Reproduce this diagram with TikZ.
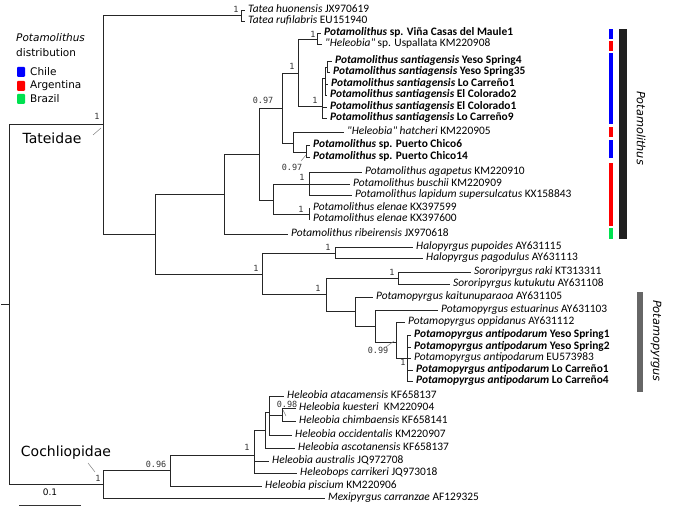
\documentclass[tikz,border=0pt]{standalone}
\usepackage{fontspec}
\setmainfont{Carlito}[Ligatures=TeXOff]
\newfontfamily\dejavu{DejaVu Sans}
\newfontfamily\dmono{DejaVu Sans Mono}
\definecolor{cblue}{RGB}{0,0,255}
\definecolor{cred}{RGB}{255,0,0}
\definecolor{cgreen}{RGB}{0,225,80}
\tikzset{
  br/.style={draw=black!85, line width=0.8pt},
  lab/.style={anchor=west, inner xsep=3pt, inner ysep=0pt, text height=7.5pt, text depth=2.2pt, font=\fontsize{11.4}{13}\selectfont},
  supv/.style={inner sep=0pt, font=\dmono\fontsize{8.5}{10}\selectfont, text=black!80},
  fam/.style={inner sep=0pt, font=\dejavu\fontsize{14}{16}\selectfont},
  leg/.style={inner sep=0pt, anchor=west, font=\dejavu\fontsize{10.5}{12}\selectfont},
  ptr/.style={draw=black!50, line width=0.5pt},
  sw/.style={rounded corners=1pt, draw=none}
}
\begin{document}
\begin{tikzpicture}[x=1pt,y=-1pt]
\useasboundingbox (0,0) rectangle (691,513);
% internal nodes
\coordinate (stem) at (1,304);
\coordinate (R) at (9,304);
\coordinate (T) at (103,124);
\coordinate (C) at (103,484);
\coordinate (TA) at (241,15);
\coordinate (P155) at (155,234);
\coordinate (P224) at (224,194);
\coordinate (P259) at (259,154);
\coordinate (P282) at (282,108);
\coordinate (P298) at (298,73);
\coordinate (V317) at (317,39);
\coordinate (S322) at (322,106);
\coordinate (S325) at (325,78);
\coordinate (S327) at (327,67);
\coordinate (P293) at (293,143);
\coordinate (PC) at (306,152);
\coordinate (P273) at (273,200);
\coordinate (A309) at (309,184);
\coordinate (E309) at (309,214);
\coordinate (H262) at (262,274);
\coordinate (HP335) at (335,253);
\coordinate (N326) at (326,294);
\coordinate (SO398) at (398,278);
\coordinate (N355) at (355,311);
\coordinate (N375) at (375,326);
\coordinate (N396) at (396,342);
\coordinate (A407) at (407,358);
\coordinate (C170) at (170,470);
\coordinate (C254) at (254,455);
\coordinate (C265) at (265,430);
\coordinate (C269) at (269,412);
\coordinate (K282) at (282,415);
% leaves
\node[lab] (L1) at (245,10) {\textit{Tatea huonensis} JX970619};
\node[lab] (L2) at (245,21) {\textit{Tatea rufilabris} EU151940};
\node[lab] (L3) at (321,33) {\textbf{\textit{Potamolithus} sp. Viña Casas del Maule1}};
\node[lab] (L4) at (322,44) {\textit{"Heleobia"} sp. Uspallata KM220908};
\node[lab] (L5) at (332,61) {\textbf{\textit{Potamolithus santiagensis} Yeso Spring4}};
\node[lab] (L6) at (330,72) {\textbf{\textit{Potamolithus santiagensis} Yeso Spring35}};
\node[lab] (L7) at (328,84) {\textbf{\textit{Potamolithus santiagensis} Lo Carreño1}};
\node[lab] (L8) at (327,95) {\textbf{\textit{Potamolithus santiagensis} El Colorado2}};
\node[lab] (L9) at (327,107) {\textbf{\textit{Potamolithus santiagensis} El Colorado1}};
\node[lab] (L10) at (327,118) {\textbf{\textit{Potamolithus santiagensis} Lo Carreño9}};
\node[lab] (L11) at (344,132) {\textit{"Heleobia" hatcheri} KM220905};
\node[lab] (L12) at (310,145) {\textbf{\textit{Potamolithus} sp. Puerto Chico6}};
\node[lab] (L13) at (310,157) {\textbf{\textit{Potamolithus} sp. Puerto Chico14}};
\node[lab] (L14) at (362,172) {\textit{Potamolithus agapetus} KM220910};
\node[lab] (L15) at (350,184) {\textit{Potamolithus buschii} KM220909};
\node[lab] (L16) at (352,195) {\textit{Potamolithus lapidum supersulcatus} KX158843};
\node[lab] (L17) at (310,208) {\textit{Potamolithus elenae} KX397599};
\node[lab] (L18) at (310,219) {\textit{Potamolithus elenae} KX397600};
\node[lab] (L19) at (288,234) {\textit{Potamolithus ribeirensis} JX970618};
\node[lab] (L20) at (413,247) {\textit{Halopyrgus pupoides} AY631115};
\node[lab] (L21) at (423,258) {\textit{Halopyrgus pagodulus} AY631113};
\node[lab] (L22) at (471,272) {\textit{Sororipyrgus raki} KT313311};
\node[lab] (L23) at (450,284) {\textit{Sororipyrgus kutukutu} AY631108};
\node[lab] (L24) at (373,297) {\textit{Potamopyrgus kaitunuparaoa} AY631105};
\node[lab] (L25) at (438,310) {\textit{Potamopyrgus estuarinus} AY631103};
\node[lab] (L26) at (405,322) {\textit{Potamopyrgus oppidanus} AY631112};
\node[lab] (L27) at (411,335) {\textbf{\textit{Potamopyrgus antipodarum} Yeso Spring1}};
\node[lab] (L28) at (411,347) {\textbf{\textit{Potamopyrgus antipodarum} Yeso Spring2}};
\node[lab] (L29) at (411,358) {\textit{Potamopyrgus antipodarum} EU573983};
\node[lab] (L30) at (413,370) {\textbf{\textit{Potamopyrgus antipodarum} Lo Carreño1}};
\node[lab] (L31) at (413,381) {\textbf{\textit{Potamopyrgus antipodarum} Lo Carreño4}};
\node[lab] (L32) at (284,396) {\textit{Heleobia atacamensis} KF658137};
\node[lab] (L33) at (296,408) {\textit{Heleobia kuesteri}\ \ KM220904};
\node[lab] (L34) at (296,421) {\textit{Heleobia chimbaensis} KF658141};
\node[lab] (L35) at (292,435) {\textit{Heleobia occidentalis} KM220907};
\node[lab] (L36) at (295,448) {\textit{Heleobia ascotanensis} KF658137};
\node[lab] (L37) at (269,461) {\textit{Heleobia australis} JQ972708};
\node[lab] (L38) at (297,473) {\textit{Heleobops carrikeri} JQ973018};
\node[lab] (L39) at (262,486) {\textit{Heleobia piscium} KM220906};
\node[lab] (L40) at (325,498) {\textit{Mexipyrgus carranzae} AF129325};
% branches
\draw[br] (stem) -- (R);
\draw[br] (R) |- (T);
\draw[br] (R) |- (C);
\draw[br] (T) |- (TA);
\draw[br] (T) |- (P155);
\draw[br] (TA) |- (L1.west);
\draw[br] (TA) |- (L2.west);
\draw[br] (P155) |- (P224);
\draw[br] (P155) |- (H262);
\draw[br] (P224) |- (P259);
\draw[br] (P224) |- (L19.west);
\draw[br] (P259) |- (P282);
\draw[br] (P259) |- (P273);
\draw[br] (P282) |- (P298);
\draw[br] (P282) |- (P293);
\draw[br] (P298) |- (V317);
\draw[br] (P298) |- (S322);
\draw[br] (V317) |- (L3.west);
\draw[br] (V317) |- (L4.west);
\draw[br] (S322) |- (S325);
\draw[br] (S322) |- (L9.west);
\draw[br] (S322) |- (L10.west);
\draw[br] (S325) |- (S327);
\draw[br] (S325) |- (L7.west);
\draw[br] (S325) |- (L8.west);
\draw[br] (S327) |- (L5.west);
\draw[br] (S327) |- (L6.west);
\draw[br] (P293) |- (L11.west);
\draw[br] (P293) |- (PC);
\draw[br] (PC) |- (L12.west);
\draw[br] (PC) |- (L13.west);
\draw[br] (P273) |- (A309);
\draw[br] (P273) |- (E309);
\draw[br] (A309) |- (L14.west);
\draw[br] (A309) |- (L15.west);
\draw[br] (A309) |- (L16.west);
\draw[br] (E309) |- (L17.west);
\draw[br] (E309) |- (L18.west);
\draw[br] (H262) |- (HP335);
\draw[br] (H262) |- (N326);
\draw[br] (HP335) |- (L20.west);
\draw[br] (HP335) |- (L21.west);
\draw[br] (N326) |- (SO398);
\draw[br] (N326) |- (N355);
\draw[br] (SO398) |- (L22.west);
\draw[br] (SO398) |- (L23.west);
\draw[br] (N355) |- (L24.west);
\draw[br] (N355) |- (N375);
\draw[br] (N375) |- (L25.west);
\draw[br] (N375) |- (N396);
\draw[br] (N396) |- (L26.west);
\draw[br] (N396) |- (A407);
\draw[br] (A407) |- (L27.west);
\draw[br] (A407) |- (L28.west);
\draw[br] (A407) |- (L29.west);
\draw[br] (A407) |- (L30.west);
\draw[br] (A407) |- (L31.west);
\draw[br] (C) |- (C170);
\draw[br] (C) |- (L40.west);
\draw[br] (C170) |- (C254);
\draw[br] (C170) |- (L39.west);
\draw[br] (C254) |- (C265);
\draw[br] (C254) |- (L37.west);
\draw[br] (C254) |- (L38.west);
\draw[br] (C265) |- (C269);
\draw[br] (C265) |- (L36.west);
\draw[br] (C269) |- (L32.west);
\draw[br] (C269) |- (K282);
\draw[br] (C269) |- (L35.west);
\draw[br] (K282) |- (L33.west);
\draw[br] (K282) |- (L34.west);
% support values
\node[supv] (s1) at (236,9) {1};
\node[supv] (s2) at (97,116) {1};
\node[supv] (s3) at (313,34) {1};
\node[supv] (s4) at (292,66) {1};
\node[supv] (s5) at (315,100) {1};
\node[supv] (s6) at (263,100) {0.97};
\node[supv] (s7) at (292,167) {0.97};
\node[supv] (s8) at (302,177) {1};
\node[supv] (s9) at (301,209) {1};
\node[supv] (s10) at (256,268) {1};
\node[supv] (s11) at (328,247) {1};
\node[supv] (s12) at (318,288) {1};
\node[supv] (s13) at (392,272) {1};
\node[supv] (s14) at (378,350) {0.99};
\node[supv] (s15) at (403,362) {1};
\node[supv] (s16) at (98,478) {1};
\node[supv] (s17) at (156,464) {0.96};
\node[supv] (s18) at (247,447) {1};
\node[supv] (s19) at (287,404) {0.98};
\coordinate (p1a) at (301,161); \coordinate (p1b) at (306,155);
\draw[ptr] (p1a) -- (p1b);
\coordinate (p2a) at (386,347); \coordinate (p2b) at (394,341);
\draw[ptr] (p2a) -- (p2b);
\coordinate (p3a) at (283,410); \coordinate (p3b) at (286,416);
\draw[ptr] (p3a) -- (p3b);
% family labels
\node[fam] (tat) at (52,138) {Tateidae};
\node[fam] (coc) at (66,453) {Cochliopidae};
\coordinate (t1a) at (93,135); \coordinate (t1b) at (101,128);
\draw[ptr] (t1a) -- (t1b);
\coordinate (c1a) at (88,463); \coordinate (c1b) at (95,472);
\draw[ptr] (c1a) -- (c1b);
% scale bar
\coordinate (sb1) at (19,505); \coordinate (sb2) at (81,505);
\draw[black!80, line width=0.8pt] (sb1) -- (sb2);
\node[inner sep=0pt, font=\dejavu\fontsize{9}{10}\selectfont] (sbl) at (50,492) {0.1};
% legend
\node[leg] (lg1) at (16,38) {\textit{Potamolithus}};
\node[leg] (lg2) at (16,53) {distribution};
\fill[sw, cblue] (17,67) rectangle (25,77);
\fill[sw, cred] (17,81) rectangle (25,91);
\fill[sw, cgreen] (17,94) rectangle (25,104);
\node[leg] (lg3) at (30,72) {Chile};
\node[leg] (lg4) at (30,86) {Argentina};
\node[leg] (lg5) at (30,99) {Brazil};
% distribution bar
\fill[cblue] (609,29) rectangle (613,39);
\fill[cred] (609,41) rectangle (613,51);
\fill[cblue] (609,53) rectangle (613,124);
\fill[cred] (609,127) rectangle (613,137);
\fill[cblue] (609,140) rectangle (613,158);
\fill[cred] (609,163) rectangle (613,226);
\fill[cgreen] (609,228) rectangle (613,239);
\fill[black!88] (619,29) rectangle (627,239);
\node[inner sep=0pt, rotate=-90, font=\dejavu\fontsize{11.3}{13}\selectfont\itshape] (gp1) at (641,128) {Potamolithus};
\fill[black!60] (637,292) rectangle (643,392);
\node[inner sep=0pt, rotate=-90, font=\dejavu\fontsize{11.3}{13}\selectfont\itshape] (gp2) at (656,341) {Potamopyrgus};
\end{tikzpicture}
\end{document}
